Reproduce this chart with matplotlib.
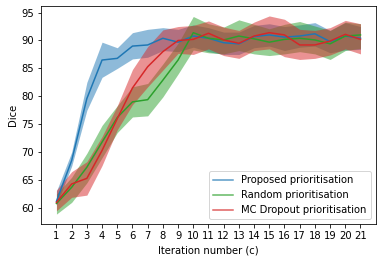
import numpy as np
import matplotlib.pyplot as plt

iterations = np.arange(1, 22)

# Proposed prioritisation
proposed_mean = [61.2, 68.5, 79.6, 86.5, 86.8, 89.0, 89.2, 90.4, 89.7, 90.8, 90.4,
                 89.6, 89.4, 90.7, 91.0, 90.6, 90.8, 91.2, 89.8, 90.8, 90.4]
proposed_low = [60.5, 67.5, 77.5, 83.4, 85.0, 86.7, 87.0, 88.2, 88.0, 88.8, 88.0,
                87.5, 87.5, 88.7, 89.0, 88.2, 88.8, 89.0, 87.8, 88.3, 88.4]
proposed_high = [63.0, 70.0, 82.5, 89.7, 88.7, 91.4, 92.0, 92.3, 92.0, 92.8, 92.3,
                 91.5, 91.5, 92.7, 93.0, 92.5, 92.8, 93.2, 91.8, 93.2, 92.5]

# Random prioritisation
random_mean = [60.8, 63.7, 67.3, 71.8, 76.2, 79.0, 79.4, 82.9, 86.5, 91.4, 90.4,
               90.1, 90.8, 90.3, 89.7, 90.2, 90.4, 90.1, 89.4, 90.8, 91.0]
random_low = [58.9, 61.0, 64.5, 69.0, 73.5, 76.3, 76.5, 79.9, 84.0, 88.3, 87.8,
              87.6, 88.2, 87.6, 87.3, 87.6, 88.0, 87.6, 86.6, 88.2, 88.6]
random_high = [62.5, 65.5, 69.8, 74.8, 78.3, 81.7, 82.3, 85.8, 89.5, 94.3, 93.0,
               92.4, 93.7, 92.9, 92.1, 92.9, 93.4, 92.6, 91.8, 93.3, 93.0]

# MC Dropout prioritisation
mc_mean = [61.0, 64.3, 65.3, 70.3, 76.0, 81.5, 85.3, 88.0, 90.0, 90.2, 91.3,
           90.1, 89.5, 90.8, 91.4, 91.0, 89.2, 89.2, 89.9, 91.1, 90.2]
mc_low = [59.5, 61.9, 62.3, 67.6, 74.0, 78.5, 81.7, 84.7, 87.7, 87.5, 88.5,
          87.3, 86.8, 88.2, 88.5, 87.1, 86.6, 86.8, 87.4, 88.5, 87.6]
mc_high = [63.2, 66.5, 68.3, 72.8, 78.3, 84.8, 88.9, 91.9, 92.5, 92.7, 93.5,
           92.4, 91.8, 93.3, 94.4, 93.8, 92.0, 91.8, 92.3, 93.6, 93.0]

series = [
    ("Proposed prioritisation", proposed_mean, proposed_low, proposed_high, "tab:blue"),
    ("Random prioritisation", random_mean, random_low, random_high, "tab:green"),
    ("MC Dropout prioritisation", mc_mean, mc_low, mc_high, "tab:red"),
]

fig = plt.figure(figsize=(382 / 72, 262 / 72), dpi=72)
ax = fig.add_axes([0.108, 0.145, 0.8755, 0.832])

for name, mean, low, high, color in series:
    ax.fill_between(iterations, low, high, color=color, alpha=0.5, linewidth=0)
    ax.plot(iterations, mean, color=color, label=name)

ax.set_xticks(iterations)
ax.set_yticks(np.arange(60, 96, 5))
ax.set_xlabel("Iteration number (c)")
ax.set_ylabel("Dice")
leg = ax.legend(loc="lower right")
for h in leg.get_lines():
    h.set_alpha(0.75)

fig.savefig("out.png", dpi=72)
